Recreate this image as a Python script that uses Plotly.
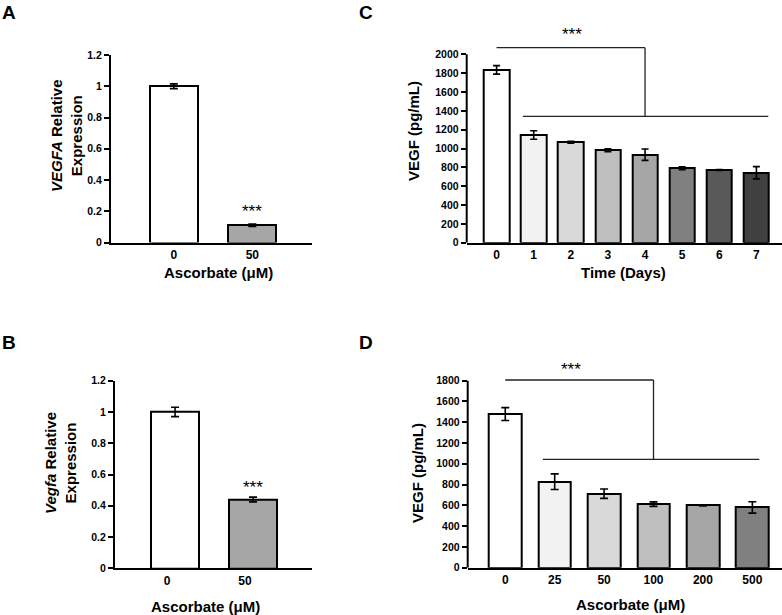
import plotly.graph_objects as go

W, H = 782, 615

# ---------------- data ----------------
a_cats = ["0", "50"]
a_vals = [1.0, 0.11]
a_errs = [0.015, 0.008]
a_colors = ["#ffffff", "#a6a6a6"]
a_yticks = [0, 0.2, 0.4, 0.6, 0.8, 1.0, 1.2]
a_yticktext = ["0", "0.2", "0.4", "0.6", "0.8", "1", "1.2"]

b_cats = ["0", "50"]
b_vals = [1.0, 0.44]
b_errs = [0.03, 0.015]
b_colors = ["#ffffff", "#a6a6a6"]

c_cats = ["0", "1", "2", "3", "4", "5", "6", "7"]
c_vals = [1835, 1143, 1066, 981, 934, 790, 772, 743]
c_errs = [45, 45, 10, 15, 60, 15, 5, 65]
c_colors = ["#ffffff", "#f2f2f2", "#d9d9d9", "#bfbfbf", "#a6a6a6", "#808080", "#595959", "#404040"]
c_yticks = [0, 200, 400, 600, 800, 1000, 1200, 1400, 1600, 1800, 2000]

d_cats = ["0", "25", "50", "100", "200", "500"]
d_vals = [1479, 828, 712, 612, 600, 580]
d_errs = [62, 75, 45, 22, 5, 55]
d_colors = ["#ffffff", "#f2f2f2", "#d9d9d9", "#bfbfbf", "#a6a6a6", "#808080"]
d_yticks = [0, 200, 400, 600, 800, 1000, 1200, 1400, 1600, 1800]

# significance brackets: (top level, top span, lower level, lower span, star pos)
c_top_y, c_top_span, c_low_y, c_low_span, c_star = 2070, (0, 4), 1342, (0.71, 7.32), (2.03, 2205)
d_top_y, d_top_span, d_low_y, d_low_span, d_star = 1807, (0, 3), 1043, (0.76, 5.14), (1.33, 1903)

FONT = "Liberation Sans, Arial, sans-serif"


def xdom(l, r):
    return [l / W, min(r / W, 1.0)]


def ydom(top_px, bottom_px):
    return [1 - bottom_px / H, 1 - top_px / H]


def ext_top(zero_px, ref_px, ref_val, top_val):
    return zero_px - (zero_px - ref_px) * top_val / ref_val


fig = go.Figure()


def add_bars(cats, vals, errs, colors, xa, ya, width, errw):
    fig.add_trace(go.Bar(
        x=cats, y=vals, xaxis=xa, yaxis=ya, width=width,
        marker=dict(color=colors, line=dict(color="black", width=2)),
        error_y=dict(type="data", array=errs, color="black", thickness=1.6, width=errw),
        showlegend=False,
    ))


add_bars(a_cats, a_vals, a_errs, a_colors, "x", "y", 0.61, 4)
add_bars(b_cats, b_vals, b_errs, b_colors, "x2", "y2", 0.61, 4)
add_bars(c_cats, c_vals, c_errs, c_colors, "x3", "y3", 0.68, 3.5)
add_bars(d_cats, d_vals, d_errs, d_colors, "x4", "y4", 0.66, 4)

xcommon = dict(type="category", showline=True, linecolor="black", linewidth=2,
               ticks="", showgrid=False, zeroline=False, automargin=False,
               tickfont=dict(family=FONT, size=12, color="black", weight="bold"))
ycommon = dict(showgrid=False, zeroline=False, ticks="outside", ticklen=5, tickwidth=1.5,
               tickcolor="black", automargin=False,
               tickfont=dict(family=FONT, size=10.5, color="black", weight="bold"))

c_top_val = 2300
d_top_val = 1950
c_top_px = ext_top(242.7, 54.3, 2000, c_top_val)
d_top_px = ext_top(567.7, 380.7, 1800, d_top_val)

fig.update_layout(
    width=W, height=H, margin=dict(l=0, r=0, t=0, b=0, pad=0, autoexpand=False),
    paper_bgcolor="white", plot_bgcolor="white", bargap=0,
    xaxis=dict(xcommon, domain=xdom(111, 312), range=[-0.80, 1.76], anchor="y"),
    yaxis=dict(ycommon, domain=ydom(55, 242.5), range=[0, 1.2], anchor="x",
               tickvals=a_yticks, ticktext=a_yticktext, showline=True, linecolor="black", linewidth=2),
    xaxis2=dict(xcommon, domain=xdom(115, 312.3), range=[-0.77, 1.76], anchor="y2", ticklabelshift=-8),
    yaxis2=dict(ycommon, domain=ydom(380.7, 568.3), range=[0, 1.2], anchor="x2",
                tickvals=a_yticks, ticktext=a_yticktext, showline=True, linecolor="black", linewidth=2),
    xaxis3=dict(xcommon, domain=xdom(466.7, 782), range=[-0.805, 7.69], anchor="y3"),
    yaxis3=dict(ycommon, domain=ydom(c_top_px, 242.7), range=[0, c_top_val], anchor="x3",
                tickvals=c_yticks, showline=False),
    xaxis4=dict(xcommon, domain=xdom(467.7, 782), range=[-0.76, 5.6], anchor="y4"),
    yaxis4=dict(ycommon, domain=ydom(d_top_px, 567.7), range=[0, d_top_val], anchor="x4",
                tickvals=d_yticks, showline=False),
)

shapes = []
# manual y-axis lines for C and D (ending at the top tick)
shapes.append(dict(type="line", xref="x3 domain", yref="y3", x0=0, x1=0, y0=0, y1=c_yticks[-1],
                   line=dict(color="black", width=2)))
shapes.append(dict(type="line", xref="x4 domain", yref="y4", x0=0, x1=0, y0=0, y1=d_yticks[-1],
                   line=dict(color="black", width=2)))


def bracket(xr, yr, top_y, top_span, low_y, low_span):
    lw = dict(color="#222222", width=1.3)
    shapes.append(dict(type="line", xref=xr, yref=yr, x0=top_span[0], x1=top_span[1], y0=top_y, y1=top_y, line=lw))
    shapes.append(dict(type="line", xref=xr, yref=yr, x0=top_span[1], x1=top_span[1], y0=top_y, y1=low_y, line=lw))
    shapes.append(dict(type="line", xref=xr, yref=yr, x0=low_span[0], x1=low_span[1], y0=low_y, y1=low_y, line=lw))


bracket("x3", "y3", c_top_y, c_top_span, c_low_y, c_low_span)
bracket("x4", "y4", d_top_y, d_top_span, d_low_y, d_low_span)
fig.update_layout(shapes=shapes)

anns = []
star_font = dict(family=FONT, size=17, color="black")
anns.append(dict(xref="x", yref="y", x=1, y=0.2, text="***", showarrow=False, font=star_font))
anns.append(dict(xref="x2", yref="y2", x=1, y=0.52, text="***", showarrow=False, font=star_font))
anns.append(dict(xref="x3", yref="y3", x=c_star[0], y=c_star[1], text="***", showarrow=False, font=star_font))
anns.append(dict(xref="x4", yref="y4", x=d_star[0], y=d_star[1], text="***", showarrow=False, font=star_font))


def ptext(x, y, text, size=15, angle=0):
    anns.append(dict(xref="paper", yref="paper", x=x / W, y=1 - y / H, text=text, showarrow=False,
                     textangle=angle, font=dict(family=FONT, size=size, color="black"),
                     xanchor="center", yanchor="middle"))


# panel letters
ptext(9, 12, "<b>A</b>", 19)
ptext(9, 342, "<b>B</b>", 19)
ptext(366, 12, "<b>C</b>", 19)
ptext(366, 342, "<b>D</b>", 19)

# axis titles
ptext(66, 136, "<b><i>VEGFA</i> Relative<br>Expression</b>", 15, -90)
ptext(60, 463, "<b><i>Vegfa</i> Relative<br>Expression</b>", 15, -90)
ptext(218, 273, "<b>Ascorbate (μM)</b>", 15)
ptext(205, 606, "<b>Ascorbate (μM)</b>", 15)
ptext(413, 131, "<b>VEGF (pg/mL)</b>", 15, -90)
ptext(623, 273, "<b>Time (Days)</b>", 15)
ptext(417, 473, "<b>VEGF (pg/mL)</b>", 15, -90)
ptext(630, 604, "<b>Ascorbate (μM)</b>", 15)

fig.update_layout(annotations=anns)
fig.write_html("out.html", config={"displayModeBar": False},
               post_script="document.body.style.margin='0';document.body.style.padding='0';document.documentElement.style.overflow='hidden';")
